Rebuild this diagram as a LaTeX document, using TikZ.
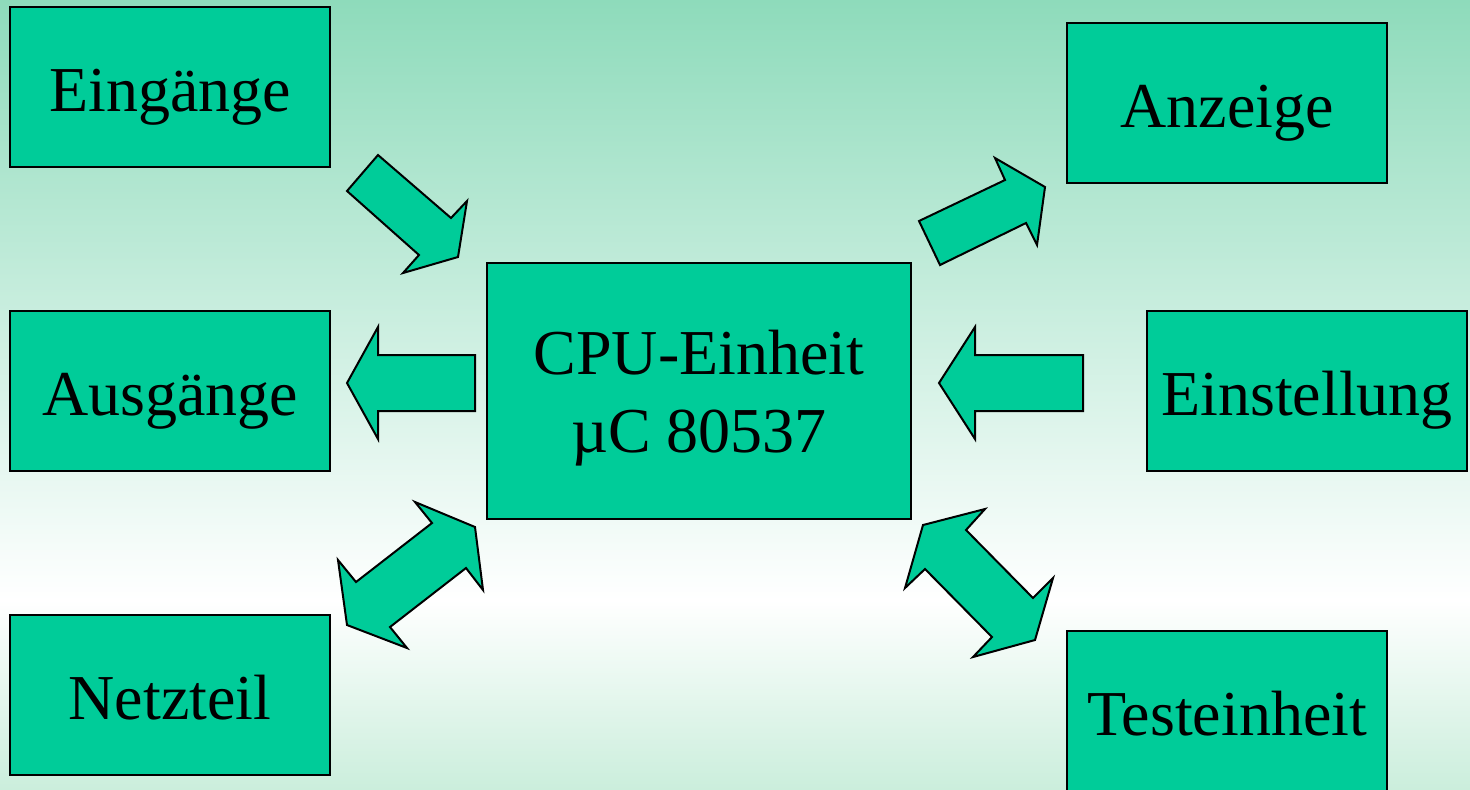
\documentclass[tikz,border=0pt]{standalone}
\usepackage{fontspec}
\setmainfont{Liberation Serif}
\usetikzlibrary{positioning}

\definecolor{boxgreen}{HTML}{00CC99}
\definecolor{bgtop}{HTML}{8EDBBB}
\definecolor{bgbottom}{HTML}{CBEEDC}
\pgfdeclareverticalshading{backdrop}{100bp}{color(0bp)=(bgbottom); color(25bp)=(bgbottom);
  color(37bp)=(white); color(75bp)=(bgtop); color(100bp)=(bgtop)}
\newcommand{\lowline}[1]{\raisebox{-3.5pt}[\height][\depth]{#1}}

\begin{document}
\begin{tikzpicture}
			[x=0.5pt,y=-0.5pt,
			unit/.style={draw=black,line width=1pt,fill=boxgreen,inner sep=0pt,
				minimum width=160pt,minimum height=80pt,font=\fontsize{32}{39}\selectfont,
				text height=25pt,text depth=1pt},
			cpu/.style={unit,minimum width=212pt,minimum height=128pt,align=center,
				text height=,text depth=},
			blockarrow/.style={draw=black,line width=1pt,fill=boxgreen,line join=miter}]

			% background
			\shade[shading=backdrop] (0,0) rectangle (1470,789);
			\useasboundingbox (0,0) rectangle (1470,789);

			\node [unit](eingaenge)   at (170,87)   {Eingänge};
			\node [unit](ausgaenge)   at (170,391)  {Ausgänge};
			\node [unit](netzteil)    at (170,695)  {Netzteil};
			\node [cpu](cpu)          at (699,391)  {\lowline{CPU-Einheit}\\\lowline{µC 80537}};
			\node [unit](anzeige)     at (1227,103) {Anzeige};
			\node [unit](einstellung) at (1307,391) {Einstellung};
			\node [unit](testeinheit) at (1227,711) {Testeinheit};

			% Eingaenge -> CPU
			\draw [blockarrow] (378,155) -- (347,191) -- (419,255) -- (403,273)
				-- (458,257) -- (467,201) -- (451,218) -- cycle;
			% CPU -> Anzeige
			\draw [blockarrow] (919,221) -- (940,265) -- (1026,223) -- (1037,245)
				-- (1045,187) -- (995,158) -- (1005,180) -- cycle;
			% CPU -> Ausgaenge
			\draw [blockarrow] (475,355) -- (378,355) -- (378,327) -- (347,383)
				-- (378,439) -- (378,411) -- (475,411) -- cycle;
			% Einstellung -> CPU
			\draw [blockarrow] (1083,355) -- (975,355) -- (975,327) -- (939,383)
				-- (975,439) -- (975,411) -- (1083,411) -- cycle;
			% Netzteil <-> CPU
			\draw [blockarrow] (415,502) -- (432,523) -- (356,582) -- (338,560)
				-- (347,625) -- (407,648) -- (390,627) -- (466,568) -- (483,590)
				-- (475,527) -- cycle;
			% CPU <-> Testeinheit
			\draw [blockarrow] (985,509) -- (966,530) -- (1033,598) -- (1053,578)
				-- (1035,640) -- (973,657) -- (992,637) -- (925,569) -- (905,588)
				-- (923,525) -- cycle;
			\end{tikzpicture}
\end{document}
